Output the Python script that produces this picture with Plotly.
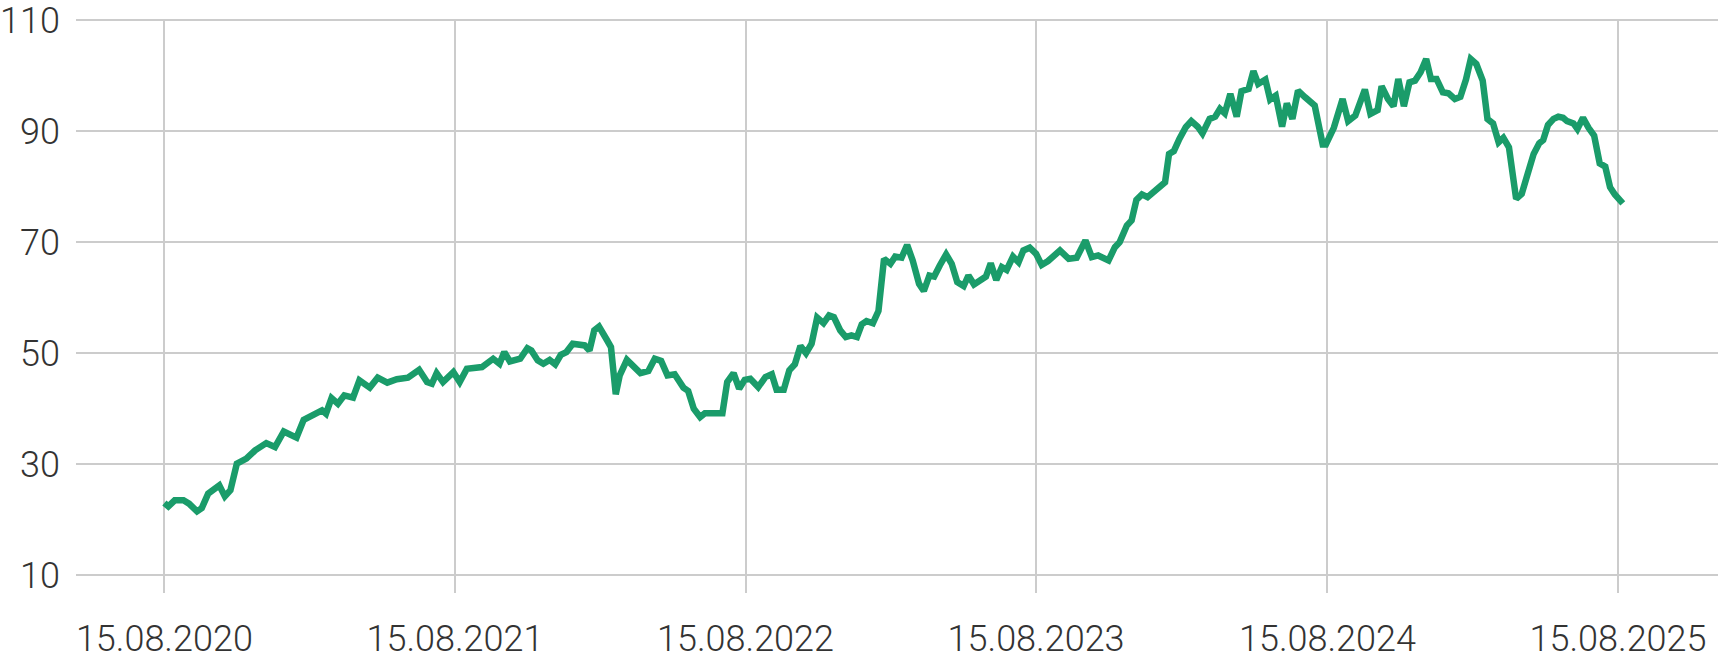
import pandas as pd
import plotly.graph_objects as go

# Day offsets from 15.08.2020 and the corresponding series values
day_offsets = [
    0, 5, 13, 24, 31, 41, 47, 55, 69, 76, 83, 91, 103, 114, 128, 139, 150, 166, 175, 187,
    198, 203, 210, 218, 226, 237, 245, 258, 268, 280, 292, 306, 320, 330, 336, 342, 350, 363, 371, 380,
    399, 413, 421, 427, 434, 447, 456, 461, 469, 476, 484, 491, 498, 505, 513, 528, 534, 540, 546, 555,
    561, 567, 572, 581, 589, 598, 608, 616, 624, 632, 641, 647, 652, 658, 665, 673, 679, 701, 707,
    715, 722, 729, 736, 746, 755, 763, 769, 778, 785, 792, 799, 806, 813, 820, 828, 835, 841, 849,
    856, 863, 870, 876, 882, 890, 897, 904, 912, 918, 926, 933, 940, 948, 954, 961, 967, 974, 982,
    989, 996, 1004, 1010, 1017, 1025, 1032, 1038, 1045, 1052, 1058, 1066, 1073, 1079, 1087, 1095,
    1102, 1110, 1119, 1125,
    1136, 1146, 1157, 1165, 1173, 1186, 1194, 1200, 1209, 1215, 1221, 1228, 1235, 1249, 1257, 1262,
    1268, 1275, 1283, 1290, 1298, 1304, 1313, 1320, 1326, 1332, 1339, 1347, 1353, 1362, 1368, 1374,
    1383, 1389, 1396, 1404, 1410, 1417, 1424, 1433, 1445, 1455, 1459,
    1469, 1480, 1487, 1496, 1508, 1515, 1524, 1529, 1537, 1544, 1550, 1557, 1564, 1571, 1578, 1585,
    1591, 1598, 1606, 1613, 1621, 1628, 1635, 1641, 1648, 1656, 1662, 1669, 1676, 1682, 1689, 1698,
    1705, 1713, 1720, 1727, 1732, 1738, 1745, 1751, 1757, 1762, 1770, 1775, 1782, 1789, 1796, 1803,
    1810, 1816, 1822, 1832,
]
values = [
    23.0, 22.4, 23.5, 23.5, 22.9, 21.5, 22.1, 24.7, 26.2, 24.2, 25.3, 30.1, 31.0, 32.5, 33.8, 33.1, 35.9, 34.8, 38.0, 38.8,
    39.7, 39.1, 41.9, 40.9, 42.4, 42.0, 45.1, 43.8, 45.6, 44.7, 45.3, 45.6, 47.0, 44.8, 44.5, 46.4, 44.8, 46.6, 44.8, 47.2,
    47.5, 49.0, 48.1, 50.2, 48.5, 49.0, 50.9, 50.5, 48.7, 48.1, 48.8, 48.0, 49.7, 50.2, 51.7, 51.4, 50.5, 54.1, 54.8, 52.6,
    51.1, 42.6, 46.0, 48.8, 47.5, 46.4, 46.8, 49.0, 48.6, 46.0, 46.2, 45.1, 43.8, 43.2, 40.0, 38.5, 39.2, 39.2, 44.8,
    46.4, 43.6, 45.2, 45.4, 43.9, 45.7, 46.2, 43.4, 43.4, 46.9, 48.0, 51.3, 50.0, 51.7, 56.4, 55.4, 56.8, 56.5, 54.1,
    52.9, 53.2, 52.9, 55.2, 55.8, 55.4, 57.6, 67.0, 66.1, 67.4, 67.2, 69.5, 66.7, 62.5, 61.2, 64.0, 63.8, 65.8, 67.8,
    66.1, 62.8, 62.1, 64.0, 62.4, 63.1, 63.8, 66.2, 63.2, 65.5, 65.0, 67.4, 66.4, 68.5, 69.0, 67.9,
    65.9, 66.6, 67.8, 68.5,
    67.0, 67.2, 70.3, 67.3, 67.6, 66.7, 69.1, 70.0, 73.0, 73.9, 77.6, 78.6, 78.1, 79.6, 80.8, 85.9,
    86.4, 88.6, 90.7, 91.8, 90.8, 89.6, 92.2, 92.6, 94.0, 93.2, 96.7, 92.6, 97.2, 97.6, 100.8, 98.5,
    99.3, 95.7, 96.4, 90.8, 95.0, 92.2, 97.3, 96.1, 94.6, 87.6, 87.6,
    90.6, 95.8, 91.8, 92.8, 97.5, 93.1, 93.8, 98.1, 95.8, 94.5, 99.4, 94.5, 98.8, 99.1, 100.6, 103.0,
    99.4, 99.4, 97.0, 96.8, 95.8, 96.2, 99.3, 103.0, 102.1, 99.1, 92.2, 91.4, 88.0, 88.8, 87.1, 77.8,
    78.7, 82.3, 85.9, 87.8, 88.4, 91.1, 92.2, 92.6, 92.4, 91.8, 91.4, 90.4, 92.4, 90.6, 89.2, 84.2,
    83.6, 79.9, 78.6, 77.0,
]

start_date = "2020-08-15"
tick_dates = ["2020-08-15", "2021-08-15", "2022-08-15", "2023-08-15", "2024-08-15", "2025-08-15"]
tick_labels = ["15.08.2020", "15.08.2021", "15.08.2022", "15.08.2023", "15.08.2024", "15.08.2025"]
y_ticks = [10, 30, 50, 70, 90, 110]

dates = pd.Timestamp(start_date) + pd.to_timedelta(day_offsets, unit="D")

fig = go.Figure()
fig.add_trace(go.Scatter(
    x=dates, y=values, mode="lines",
    line=dict(color="#1a9c6a", width=6.5, shape="linear"),
    hoverinfo="skip", showlegend=False,
))

font = dict(family="Roboto, 'Open Sans', sans-serif", size=36, color="#333333", weight=300)

fig.update_layout(
    width=1718, height=658,
    margin=dict(l=76, r=0, t=19, b=65, pad=0, autoexpand=False),
    paper_bgcolor="white", plot_bgcolor="white",
    font=font,
    xaxis=dict(
        type="date", automargin=False,
        range=["2020-04-26", "2025-12-18 14:00"],
        tickvals=tick_dates, ticktext=tick_labels,
        showgrid=True, gridcolor="#cccccc", gridwidth=2,
        zeroline=False, showline=False, ticks="",
        ticklabelstandoff=21, ticklabeloverflow="allow",
        tickfont=font,
    ),
    yaxis=dict(
        automargin=False,
        range=[6.8, 110.2],
        tickvals=y_ticks,
        showgrid=True, gridcolor="#cccccc", gridwidth=2,
        zeroline=False, showline=False, ticks="",
        ticklabelstandoff=15, ticklabeloverflow="allow",
        tickfont=font,
    ),
)

fig.write_html(
    "out.html",
    config=dict(displayModeBar=False),
    post_script="document.body.style.margin='0';document.body.style.overflow='hidden';",
)
